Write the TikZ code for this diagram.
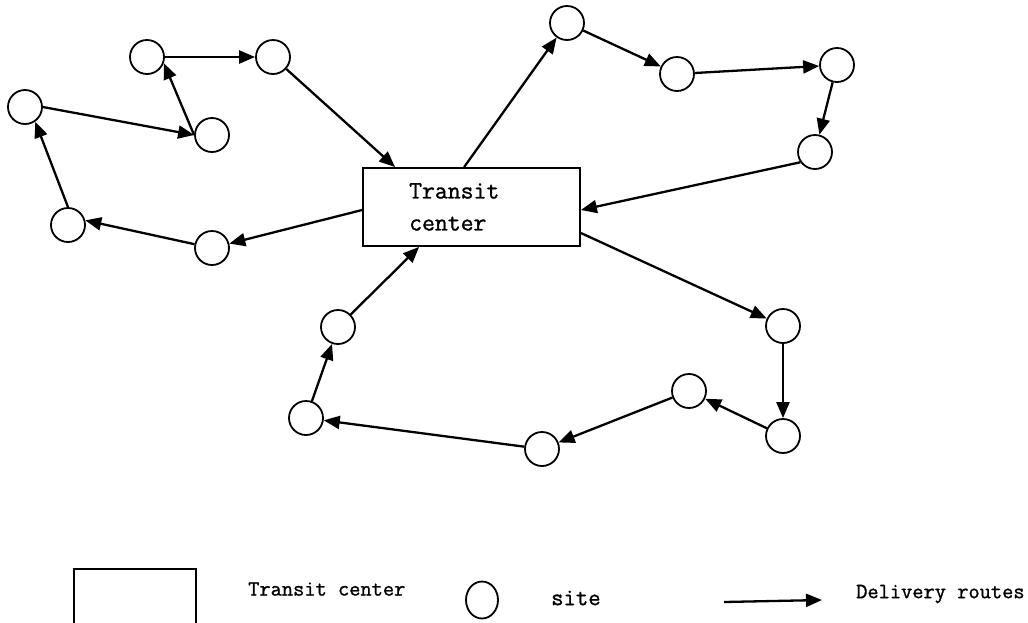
\documentclass[tikz,border=0pt]{standalone}
\usepackage{fontspec}
\newfontfamily\mono[FakeBold=1.2]{Latin Modern Mono}
\usetikzlibrary{arrows.meta,calc,shapes.geometric}
\begin{document}
\begin{tikzpicture}[x=1pt,y=-1pt,
  site/.style={draw,circle,line width=1.8pt,minimum size=34pt,inner sep=0pt},
  route/.style={line width=2.3pt,-{Triangle[length=16pt,width=13pt]}},
  lbl/.style={font=\mono\fontsize{21.8}{24}\selectfont,anchor=west,inner sep=0pt}]
\useasboundingbox (0,0) rectangle (1028,622);
% central box
\node[draw,line width=1.8pt,minimum width=217pt,minimum height=78pt,inner sep=0pt] (box) at (471.5,207) {};
\node[font=\mono\fontsize{25}{32}\selectfont,align=left,anchor=north west,inner sep=0pt] (boxtxt) at (409,183) {Transit\\center};
% sites
\node[site] (A) at (147,57) {};
\node[site] (B) at (273,57) {};
\node[site] (C) at (25,107) {};
\node[site] (D) at (212,135) {};
\node[site] (E) at (68,225) {};
\node[site] (F) at (212,248) {};
\node[site] (G) at (567,23) {};
\node[site] (H) at (677,74) {};
\node[site] (I) at (837,65) {};
\node[site] (J) at (815,152) {};
\node[site] (K) at (338,327) {};
\node[site] (L) at (306,418) {};
\node[site] (M) at (542,449) {};
\node[site] (N) at (689,391) {};
\node[site] (O) at (783,436) {};
\node[site] (P) at (783,326) {};
% routes
\draw[route] (A) -- (B);
\draw[route] (D.west) -- (A.-20);
\draw[route] (C.east) -- (D.west);
\draw[route] (E.north) -- (C.-55);
\draw[route] (F) -- (E.15);
\draw[route] ($(box.west)+(0,3)$) -- (F);
\draw[route] (B) -- ($(box.north west)+(33,0)$);
\draw[route] ($(box.north west)+(102,0)$) -- (G);
\draw[route] (G) -- (H);
\draw[route] (H) -- (I);
\draw[route] (I) -- (J);
\draw[route] (J.215) -- ($(box.east)+(0,3)$);
\draw[route] ($(box.east)+(0,26)$) -- (P);
\draw[route] (P) -- (O);
\draw[route] (O) -- (N);
\draw[route] (N) -- (M);
\draw[route] (M) -- (L);
\draw[route] (L) -- (K);
\draw[route] (K) -- ($(box.south west)+(57,0)$);
% legend
\node[draw,line width=1.8pt,minimum width=122pt,minimum height=60pt,inner sep=0pt,anchor=north west] (lbox) at (73,568) {};
\node[lbl] (lboxt) at (248,589) {Transit center};
\node[draw,ellipse,line width=1.8pt,minimum width=32pt,minimum height=37pt,inner sep=0pt] (lsite) at (482,600) {};
\node[lbl,font=\mono\fontsize{24}{26}\selectfont] (lsitet) at (551,598) {site};
\coordinate (la) at (724,602);
\coordinate (lb) at (822,600);
\draw[route] (la) -- (lb);
\node[lbl] (lroutet) at (856,594) {Delivery routes};
\end{tikzpicture}
\end{document}
